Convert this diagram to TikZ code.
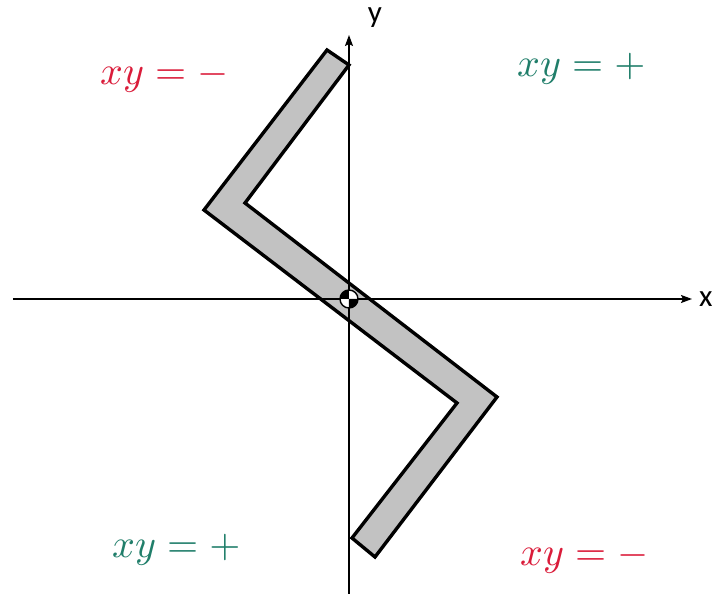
\documentclass[tikz,border=0pt]{standalone}
\usepackage{graphicx}
\usepackage{fontspec}
\newfontfamily\axisfont{Carlito}
\usetikzlibrary{arrows.meta}
\definecolor{signred}{RGB}{218,28,58}
\definecolor{signteal}{RGB}{32,126,106}
\definecolor{barfill}{RGB}{194,194,194}
\newcommand{\bigsign}[1]{\scalebox{4}{$#1$}}
\tikzset{
  axis line/.style = {-{Stealth[length=11pt,width=8pt,inset=2pt]}, line width=1.6pt},
  axislabel/.style = {inner sep=0pt, font=\axisfont\fontsize{31}{36}\selectfont},
  signlabel/.style = {inner sep=0pt, anchor=base west},
}

\begin{document}
\begin{tikzpicture}[x=1pt, y=1pt]
  \useasboundingbox (-349,-295) rectangle (366,299);

  % ---- the bent bar ------------------------------------------------------
  \draw[line width=3.4pt, line join=miter, fill=barfill]
    (-22,249) -- (0,234) -- (-104,96) -- (148,-98) -- (26,-258)
    -- (3,-239) -- (108,-104) -- (-145,89) -- cycle;

  % ---- axes --------------------------------------------------------------
  \coordinate (O) at (0,0);
  \coordinate (xstart) at (-336,0);
  \coordinate (xend) at (343,0);
  \coordinate (ystart) at (0,-295);
  \coordinate (yend) at (0,264);
  \draw[axis line] (xstart) -- (xend);
  \draw[axis line] (ystart) -- (yend);
  \node[axislabel, anchor=west] (xlab) at (350,0) {x};
  \node[axislabel, anchor=north] (ylab) at (26,291) {y};

  % ---- centroid ----------------------------------------------------------
  \fill[white] (O) circle (9);
  \fill[black] (O) -- (-9,0) arc (180:90:9) -- cycle;
  \fill[black] (O) -- (9,0) arc (0:-90:9) -- cycle;
  \draw[line width=1.4pt] (O) circle (9);

  % ---- signs of xy in the four quadrants ---------------------------------
  \node[signlabel, text=signred]  (q2) at (-249,214) {\bigsign{xy=-}};
  \node[signlabel, text=signteal] (q1) at (168,222)  {\bigsign{xy=+}};
  \node[signlabel, text=signteal] (q3) at (-237,-258) {\bigsign{xy=+}};
  \node[signlabel, text=signred]  (q4) at (171,-266) {\bigsign{xy=-}};
\end{tikzpicture}
\end{document}
